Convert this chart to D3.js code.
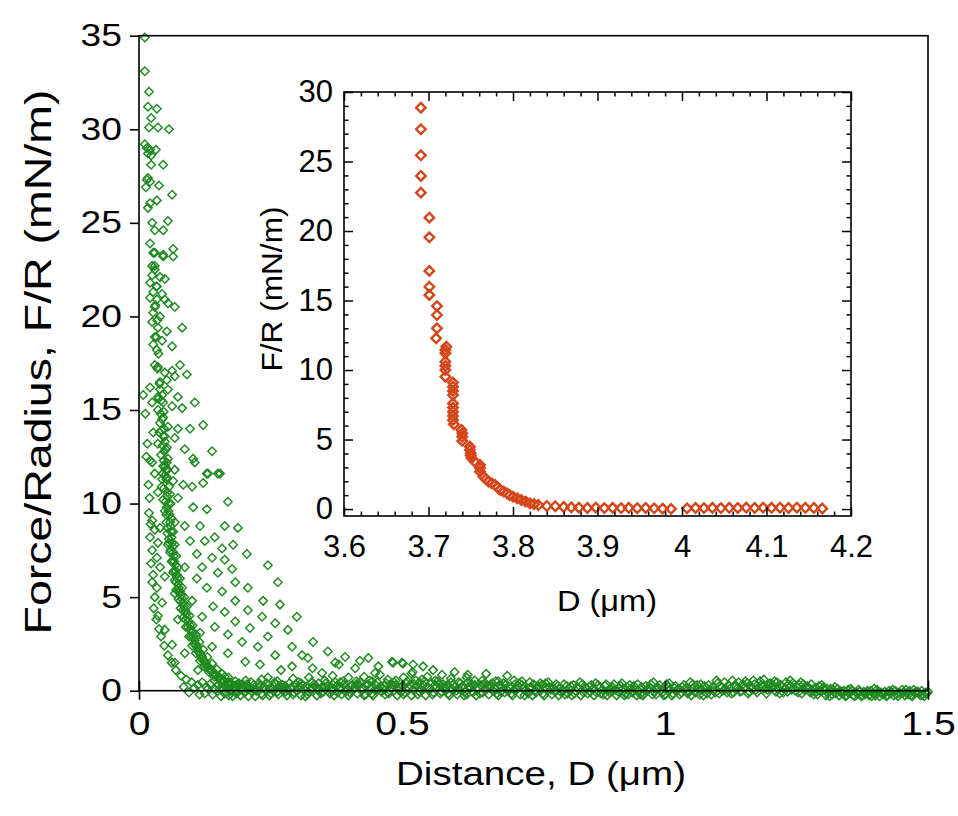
<!DOCTYPE html>
<html><head><meta charset="utf-8">
<script src="https://cdn.jsdelivr.net/npm/d3@7"></script>
<style>
body{margin:0;background:#fff}
svg{display:block}
text{font-family:"Liberation Sans",Arial,Helvetica,sans-serif;fill:#000}
</style>
</head><body>
<svg id="chart" width="958" height="816"></svg>
<script>
// ---------------- tick values / labels ----------------
const mainXTicks = [0, 0.5, 1, 1.5];
const mainXLabels = ["0", "0.5", "1", "1.5"];
const mainYTicks = [0, 5, 10, 15, 20, 25, 30, 35];
const mainYLabels = ["0", "5", "10", "15", "20", "25", "30", "35"];
const insetXTicks = [3.6, 3.7, 3.8, 3.9, 4.0, 4.1, 4.2];
const insetXLabels = ["3.6", "3.7", "3.8", "3.9", "4", "4.1", "4.2"];
const insetYTicks = [0, 5, 10, 15, 20, 25, 30];
const insetYLabels = ["0", "5", "10", "15", "20", "25", "30"];
const mainXTitle = "Distance, D (\u03bcm)";
const mainYTitle = "Force/Radius, F/R (mN/m)";
const insetXTitle = "D (\u03bcm)";
const insetYTitle = "F/R (mN/m)";

// ---------------- green data: distance (um), F/R (mN/m) ----------------
const greenColumn = [
[0.011,34.9],[0.011,33.1],[0.019,32.0],[0.017,31.2],[0.034,31.1],[0.023,30.6],[0.019,30.1],[0.036,30.1],[0.057,30.0],
[0.011,29.2],[0.015,29.0],[0.021,28.9],[0.032,28.9],[0.023,28.6],[0.017,28.7],[0.046,28.1],[0.023,28.1],[0.017,27.4],
[0.015,27.3],[0.021,27.2],[0.013,26.9],[0.038,27.0],[0.063,26.5],[0.034,26.2],[0.021,26.05],[0.017,25.8],[0.055,25.1],
[0.025,25.0],[0.046,24.6],[0.030,24.6],[0.021,23.9],[0.065,23.6],[0.030,23.4],[0.046,23.2],[0.065,23.2],[0.025,22.7],
[0.027,23.4],[0.046,23.3],[0.030,22.7],[0.025,22.2],[0.040,22.1],[0.049,22.0],[0.021,21.8],[0.034,21.6],[0.027,21.3],
[0.044,21.2],[0.021,21.0],[0.034,20.9],[0.049,20.9],[0.030,20.5],[0.068,20.5],[0.055,20.7],[0.027,20.2],[0.040,20.0],
[0.025,19.7],[0.082,19.4],[0.036,19.4],[0.053,19.2],[0.030,18.9],[0.044,18.7],[0.027,18.5],[0.063,18.4],[0.034,18.2],
[0.030,17.4],[0.036,17.3],[0.078,17.4],[0.063,17.1],[0.049,17.0],[0.091,16.9],[0.068,16.8],[0.053,16.6],[0.021,16.2],
[0.040,16.1],[0.055,16.1],[0.008,15.8],[0.036,15.7],[0.074,15.7],[0.025,15.4],[0.046,15.4],[0.106,15.4],[0.063,15.2],
[0.082,15.1],[0.046,14.6],[0.040,14.3],[0.055,14.1],[0.074,14.0],[0.097,14.0],[0.122,14.2],[0.027,13.8],[0.049,13.6],
[0.068,13.5],[0.036,13.2],[0.053,13.0],[0.087,12.9],[0.139,12.8],[0.021,12.3],[0.055,12.4],[0.103,12.4],[0.046,12.0],
[0.068,11.8],[0.030,11.6],[0.129,11.6],[0.154,11.6],[0.053,11.4]
];
const greenSteepA = [
[0.040,16.5],[0.042,15.5],[0.044,14.5],[0.046,13.6],[0.048,12.8],[0.050,12.0],[0.052,11.3],[0.054,10.6],[0.056,10.0],
[0.058,9.4],[0.060,8.8],[0.062,8.2],[0.064,7.7],[0.066,7.2],[0.069,6.7],[0.072,6.2],[0.075,5.7],[0.078,5.3],[0.082,4.9],
[0.086,4.5],[0.090,4.1],[0.094,3.7],[0.098,3.3],[0.103,2.9],[0.108,2.5],[0.114,2.1],[0.120,1.8],[0.127,1.5],[0.134,1.2],
[0.142,0.95],[0.151,0.75],[0.161,0.55],[0.172,0.4],[0.185,0.3]
];
const greenSteepB = [
[0.036,15.0],[0.039,13.8],[0.042,12.6],[0.045,11.6],[0.047,10.8],[0.050,10.1],[0.052,9.4],[0.055,8.7],[0.057,8.1],
[0.060,7.5],[0.063,6.9],[0.066,6.4],[0.070,5.8],[0.074,5.3],[0.078,4.8],[0.083,4.3],[0.088,3.8],[0.093,3.4],[0.099,2.9],
[0.105,2.5],[0.112,2.1],[0.119,1.7],[0.127,1.35],[0.136,1.05],[0.146,0.8],[0.157,0.6],[0.169,0.45]
];
const greenSteepC = [
[0.048,14.0],[0.051,12.9],[0.054,11.8],[0.057,10.9],[0.060,10.0],[0.062,9.2],[0.065,8.5],[0.068,7.8],[0.071,7.2],
[0.074,6.6],[0.078,6.0],[0.082,5.5],[0.086,5.0],[0.091,4.5],[0.096,4.0],[0.102,3.5],[0.108,3.0],[0.115,2.6],[0.122,2.2],
[0.130,1.8],[0.139,1.45],[0.148,1.15],[0.158,0.9],[0.170,0.7],[0.183,0.5],[0.197,0.35]
];
const greenSteepD = [
[0.030,22.5],[0.033,21.6],[0.031,20.6],[0.035,19.8],[0.033,18.9],[0.037,18.0],[0.035,17.2],[0.039,16.4],[0.037,15.6],
[0.041,14.8],[0.043,13.9],[0.045,13.1],[0.047,12.3],[0.049,11.5],[0.043,10.9],[0.046,10.2],[0.049,9.6],[0.052,9.0],
[0.054,8.4],[0.057,7.9],[0.059,7.4],[0.062,6.9],[0.065,6.3],[0.068,5.9],[0.071,5.4],[0.075,4.9],[0.079,4.4],[0.084,3.9],
[0.089,3.4],[0.095,2.9],[0.101,2.4],[0.108,2.0],[0.116,1.6],[0.124,1.3],[0.133,1.0],[0.143,0.75],[0.155,0.55],
[0.168,0.4],[0.182,0.25],[0.196,0.2]
];
const greenSteepE = [
[0.044,15.8],[0.047,14.9],[0.049,13.3],[0.051,11.8],[0.053,10.4],[0.056,9.6],[0.059,9.0],[0.061,8.5],[0.063,7.9],
[0.065,7.4],[0.067,6.9],[0.070,6.4],[0.073,6.0],[0.076,5.5],[0.080,5.1],[0.084,4.7],[0.088,4.3],[0.092,3.9],[0.097,3.5],
[0.101,3.1],[0.106,2.7],[0.111,2.3],[0.117,1.95],[0.124,1.6],[0.131,1.3],[0.138,1.1],[0.145,0.9],[0.153,0.7],
[0.162,0.5],[0.176,0.35],[0.190,0.25],[0.205,0.15]
];
const greenLeft = [
[0.012,14.8],[0.016,13.2],[0.014,12.5],[0.018,11.0],[0.020,10.3],[0.019,9.5],[0.022,8.9],[0.021,8.2],[0.025,7.5],
[0.023,6.8],[0.027,6.2],[0.025,5.8],[0.030,5.0],[0.028,4.4],[0.033,3.8],[0.038,3.3],[0.042,2.9],[0.048,2.4],[0.055,1.9],
[0.062,1.5],[0.070,1.1],[0.080,0.8],[0.090,0.6],[0.100,0.45],[0.112,0.3],[0.085,0.2],[0.095,-0.1],[0.105,0.15],[0.115,-0.2]
];
const greenCloud = [
[0.025,12.2],[0.053,12.2],[0.106,12.2],[0.131,11.6],[0.150,11.6],[0.122,11.1],[0.044,11.3],[0.065,11.2],[0.084,11.0],
[0.101,10.9],[0.036,10.6],[0.059,10.5],[0.074,10.3],[0.169,10.1],[0.103,9.8],[0.053,9.8],[0.129,9.7],[0.025,9.1],
[0.030,8.6],[0.040,8.7],[0.068,9.0],[0.087,8.8],[0.116,8.8],[0.163,8.8],[0.188,8.7],[0.144,8.2],[0.036,7.9],[0.055,7.8],
[0.097,8.0],[0.125,8.0],[0.158,7.6],[0.179,7.8],[0.205,7.3],[0.034,7.1],[0.110,7.3],[0.139,7.1],[0.163,7.0],[0.245,6.7],
[0.040,6.6],[0.087,6.6],[0.120,6.6],[0.177,6.5],[0.150,6.3],[0.049,6.1],[0.110,6.0],[0.264,5.8],[0.183,5.8],[0.207,5.5],
[0.034,5.5],[0.129,5.5],[0.158,5.3],[0.068,5.2],[0.236,4.8],[0.101,4.8],[0.183,4.8],[0.044,4.7],[0.268,4.6],[0.141,4.5],
[0.207,4.3],[0.163,4.2],[0.300,3.95],[0.036,4.0],[0.120,3.95],[0.234,3.95],[0.074,3.8],[0.183,3.7],[0.259,3.6],
[0.144,3.4],[0.211,3.35],[0.049,3.25],[0.283,3.25],[0.116,3.1],[0.169,3.0],[0.245,2.9],[0.331,2.6],[0.196,2.6],
[0.063,2.45],[0.139,2.35],[0.226,2.35],[0.291,2.35],[0.359,2.1],[0.087,2.0],[0.169,2.0],[0.259,1.9],[0.392,1.8],
[0.321,1.75],[0.436,1.75],[0.068,1.5],[0.202,1.55],[0.481,1.55],[0.373,1.5],[0.500,1.5],[0.112,1.1],[0.291,1.3],
[0.411,1.2],[0.348,0.95],[0.449,0.95],[0.163,0.75],[0.245,0.7],[0.483,1.5],[0.502,1.45],[0.521,1.4],[0.540,1.3],
[0.559,1.1],[0.576,0.85],[0.625,0.85],[0.600,1.0],[0.660,0.9],[0.700,0.8],
[0.310,1.9],[0.380,1.4],[0.420,1.6],[0.455,1.3],[0.230,1.4],[0.270,1.1],[0.330,1.2],[0.520,1.0]
];
const greenBandA = [
[0.120,0.45],[0.131,0.10],[0.140,-0.20],[0.151,0.30],[0.160,0.05],[0.171,-0.25],[0.180,0.20],[0.190,0.40],[0.201,-0.10],
[0.210,0.15],[0.221,-0.30],[0.230,0.25],[0.240,0.05],[0.251,-0.15],[0.260,0.35],[0.270,0.10],[0.281,-0.25],[0.290,0.20],
[0.300,0.00],[0.311,0.30],[0.320,-0.20],[0.330,0.15],[0.341,0.40],[0.350,-0.05],[0.360,0.25],[0.371,-0.25],[0.380,0.10],
[0.390,0.35],[0.401,-0.10],[0.410,0.20],[0.420,0.45],[0.431,-0.20],[0.440,0.15],[0.450,0.30],[0.461,-0.05],[0.470,0.40],
[0.480,0.10],[0.491,-0.25],[0.500,0.25],[0.510,0.50],[0.521,0.05],[0.530,-0.20],[0.540,0.30],[0.551,0.15],[0.560,-0.10],
[0.570,0.35],[0.581,0.05],[0.590,-0.25],[0.600,0.20],[0.611,0.40],[0.620,-0.05],[0.630,0.15],[0.641,-0.25],[0.650,0.30],
[0.660,0.05],[0.671,0.40],[0.680,-0.15],[0.690,0.20],[0.701,0.00],[0.710,-0.25],[0.720,0.25],[0.731,0.10],[0.740,-0.15],
[0.750,0.35],[0.761,0.05],[0.770,-0.25],[0.780,0.20],[0.791,-0.05],[0.800,0.15],[0.810,-0.20],[0.821,0.25],[0.830,0.00],
[0.840,-0.25],[0.851,0.10],[0.860,0.30],[0.870,-0.10],[0.881,0.05],[0.890,-0.25],[0.900,0.20],[0.911,-0.05],[0.920,0.10],
[0.930,-0.20],[0.941,0.25],[0.950,0.00],[0.960,-0.15],[0.971,0.15],[0.980,-0.05],[0.990,0.30],[1.001,-0.20],[1.010,0.05],
[1.020,0.25],[1.031,-0.10],[1.040,0.15],[1.050,-0.25],[1.061,0.30],[1.070,0.05],[1.080,-0.15],[1.091,0.20],[1.100,0.40],
[1.110,0.00],[1.121,0.30],[1.130,-0.10],[1.140,0.45],[1.151,0.15],[1.160,-0.05],[1.170,0.35],[1.181,0.50],[1.190,0.10],
[1.200,0.40],[1.211,-0.05],[1.220,0.30],[1.230,0.45],[1.241,0.05],[1.250,0.20],[1.260,-0.15],[1.271,0.25],[1.280,0.00],
[1.290,-0.20],[1.301,0.15],[1.310,-0.10],[1.320,0.05],[1.331,-0.25],[1.340,0.00],[1.350,-0.15],[1.361,-0.30],[1.370,-0.05],
[1.380,-0.20],[1.391,0.00],[1.400,-0.25],[1.410,-0.10],[1.421,-0.30],[1.430,-0.05],[1.440,-0.20],[1.451,0.05],[1.460,-0.15],
[1.470,-0.30],[1.481,-0.05],[1.490,-0.20],[1.500,-0.05]
];
const greenBandB = [
[0.125,-0.15],[0.135,0.35],[0.145,0.05],[0.156,-0.30],[0.165,0.25],[0.175,0.00],[0.185,-0.15],[0.196,0.15],[0.205,0.35],
[0.215,-0.05],[0.226,0.20],[0.235,-0.25],[0.245,0.30],[0.256,0.00],[0.265,-0.20],[0.275,0.15],[0.286,0.40],[0.295,-0.10],
[0.305,0.20],[0.316,-0.30],[0.325,0.05],[0.335,0.25],[0.346,-0.15],[0.355,0.40],[0.365,0.05],[0.376,0.25],[0.385,-0.20],
[0.395,0.10],[0.406,0.30],[0.415,-0.15],[0.425,0.15],[0.436,0.35],[0.445,-0.25],[0.455,0.05],[0.466,0.25],[0.475,-0.15],
[0.485,0.45],[0.496,0.15],[0.505,-0.10],[0.515,0.30],[0.526,0.55],[0.535,0.10],[0.545,-0.25],[0.556,0.40],[0.565,0.20],
[0.575,-0.05],[0.586,0.30],[0.595,0.10],[0.605,-0.20],[0.616,0.25],[0.625,0.45],[0.635,-0.10],[0.646,0.10],[0.655,0.35],
[0.665,-0.20],[0.676,0.15],[0.685,0.30],[0.695,-0.10],[0.706,0.15],[0.715,0.35],[0.725,-0.20],[0.736,0.05],[0.745,0.20],
[0.755,-0.10],[0.766,0.30],[0.775,0.10],[0.785,-0.20],[0.796,0.25],[0.805,0.05],[0.815,-0.15],[0.826,0.30],[0.835,0.10],
[0.845,-0.10],[0.856,0.20],[0.865,-0.25],[0.875,0.15],[0.886,0.25],[0.895,-0.10],[0.905,0.05],[0.916,0.25],[0.925,-0.15],
[0.935,0.10],[0.946,-0.25],[0.955,0.20],[0.965,0.05],[0.976,-0.20],[0.985,0.10],[0.995,-0.10],[1.006,0.20],[1.015,-0.15],
[1.025,0.10],[1.036,0.30],[1.045,-0.05],[1.055,0.15],[1.066,-0.20],[1.075,0.25],[1.085,0.05],[1.096,-0.10],[1.105,0.25],
[1.115,0.10],[1.126,-0.15],[1.135,0.25],[1.145,0.00],[1.156,0.40],[1.165,0.10],[1.175,-0.10],[1.186,0.25],[1.195,0.05],
[1.205,0.30],[1.216,0.10],[1.225,-0.10],[1.235,0.35],[1.246,0.15],[1.255,0.30],[1.265,0.05],[1.276,-0.10],[1.285,0.15],
[1.295,0.00],[1.306,-0.25],[1.315,0.10],[1.325,-0.15],[1.336,-0.05],[1.345,-0.25],[1.355,0.00],[1.366,-0.15],[1.375,-0.25],
[1.385,0.00],[1.396,-0.15],[1.405,-0.05],[1.415,-0.20],[1.426,0.00],[1.435,-0.25],[1.445,-0.10],[1.456,-0.25],[1.465,0.00],
[1.475,-0.10],[1.486,-0.25],[1.495,-0.10]
];
const greenBandC = [
[0.128,0.20],[0.143,0.55],[0.158,0.15],[0.173,0.45],[0.188,-0.05],[0.203,0.55],[0.218,0.30],[0.233,0.60],[0.248,0.10],
[0.263,0.50],[0.278,0.25],[0.293,0.65],[0.308,0.40],[0.323,0.70],[0.338,0.15],[0.353,0.55],[0.368,0.80],[0.383,0.45],
[0.398,0.70],[0.413,0.35],[0.428,0.75],[0.443,0.50],[0.458,0.85],[0.473,0.60],[0.488,0.30],[0.503,0.70],[0.518,0.90],
[0.533,0.45],[0.548,0.75],[0.563,0.55],[0.578,0.35],[0.593,0.65],[0.608,0.45],[0.623,0.70],[0.638,0.30],[0.653,0.55],
[0.668,0.25],[0.683,0.50],[0.698,0.35],[0.713,0.55],[0.728,0.30],[0.743,0.45],[0.758,0.20],[0.773,0.40]
];
const greenBandD = [
[0.153,0.10],[0.163,-0.15],[0.173,0.30],[0.183,0.05],[0.193,-0.25],[0.203,0.20],[0.213,0.45],[0.223,0.00],[0.233,-0.15],
[0.243,0.40],[0.253,0.15],[0.263,-0.05],[0.273,0.30],[0.283,0.05],[0.293,-0.20],[0.303,0.45],[0.313,0.10],[0.323,-0.10],
[0.333,0.35],[0.343,0.05],[0.353,0.20],[0.363,-0.15],[0.373,0.45],[0.383,0.15],[0.393,-0.05],[0.403,0.25],[0.413,0.50],
[0.423,0.00],[0.433,0.30],[0.443,-0.15],[0.453,0.45],[0.463,0.15],[0.473,-0.10],[0.483,0.30],[0.493,0.05],[0.503,-0.20],
[0.513,0.15],[0.523,0.35],[0.533,-0.05],[0.543,0.50],[0.553,0.05],[0.563,0.30],[0.573,-0.15],[0.583,0.15],[0.593,0.45],
[0.603,0.00],[0.613,0.20],[0.623,-0.20],[0.633,0.35],[0.643,0.05],[0.653,-0.10],[0.663,0.25],[0.673,0.00],[0.683,-0.25],
[0.693,0.40],[0.703,0.20],[0.713,0.05],[0.723,0.40],[0.733,-0.25],[0.743,0.15],[0.753,0.00],[0.763,0.40],[0.773,0.20],
[0.783,0.05],[0.793,0.35],[0.803,-0.10],[0.813,0.25],[0.823,-0.25],[0.833,0.20],[0.843,0.35],[0.853,-0.15],[0.863,0.10],
[0.873,0.30],[0.883,-0.20],[0.893,0.05],[0.903,0.35],[0.913,0.15],[0.923,-0.25],[0.933,0.30],[0.943,0.05],[0.953,-0.20],
[0.963,0.25],[0.973,0.35],[0.983,-0.20],[0.993,0.05],[1.003,0.35],[1.013,-0.25],[1.023,0.00],[1.033,0.20],[1.043,-0.15],
[1.053,0.35],[1.063,0.10],[1.073,-0.25],[1.083,0.30],[1.093,0.00],[1.103,-0.15],[1.113,0.45],[1.123,0.10],[1.133,0.30],
[1.143,-0.05],[1.153,0.50],[1.163,0.25],[1.173,0.05],[1.183,0.30],[1.193,-0.15],[1.203,0.15],[1.213,0.45],[1.223,0.20],
[1.233,-0.05],[1.243,0.40],[1.253,-0.10],[1.263,0.35],[1.273,0.10],[1.283,-0.20],[1.293,0.25],[1.303,0.05],[1.313,-0.30],
[1.323,0.20],[1.333,-0.05],[1.343,-0.30],[1.353,0.10],[1.363,-0.10],[1.373,-0.30],[1.383,-0.10],[1.393,-0.30],[1.403,0.05],
[1.413,-0.15],[1.423,-0.25],[1.433,0.05],[1.443,-0.30],[1.453,-0.10],[1.463,-0.20],[1.473,0.05],[1.483,-0.15],[1.493,-0.30]
];
const greenBandE = [
[0.158,0.40],[0.168,0.15],[0.178,-0.30],[0.188,0.25],[0.198,0.05],[0.208,-0.30],[0.218,0.05],[0.228,0.40],[0.238,0.20],
[0.248,-0.25],[0.258,0.45],[0.268,0.25],[0.278,-0.05],[0.288,0.10],[0.298,0.35],[0.308,-0.25],[0.318,0.20],[0.328,0.45],
[0.338,-0.25],[0.348,0.20],[0.358,0.00],[0.368,0.35],[0.378,-0.10],[0.388,0.50],[0.398,-0.25],[0.408,0.05],[0.418,0.30],
[0.428,-0.25],[0.438,0.55],[0.448,0.05],[0.458,0.20],[0.468,-0.20],[0.478,0.35],[0.488,0.55],[0.498,-0.05],[0.508,0.40],
[0.518,-0.25],[0.528,0.25],[0.538,0.60],[0.548,0.20],[0.558,-0.20],[0.568,0.50],[0.578,0.20],[0.588,-0.15],[0.598,0.35],
[0.608,0.10],[0.618,-0.25],[0.628,0.25],[0.638,0.55],[0.648,-0.15],[0.658,0.40],[0.668,0.15],[0.678,0.50],[0.688,-0.05],
[0.698,0.10],[0.708,-0.15],[0.718,0.10],[0.728,0.50],[0.738,-0.05],[0.748,-0.25],[0.758,0.25],[0.768,-0.15],[0.778,0.45],
[0.788,0.15],[0.798,-0.25],[0.808,0.35],[0.818,0.10],[0.828,-0.15],[0.838,0.45],[0.848,0.15],[0.858,-0.05],[0.868,0.40],
[0.878,-0.15],[0.888,0.35],[0.898,0.10],[0.908,-0.25],[0.918,0.40],[0.928,0.20],[0.938,-0.10],[0.948,0.35],[0.958,-0.25],
[0.968,0.05],[0.978,0.45],[0.988,0.15],[0.998,-0.25],[1.008,0.40],[1.018,0.15],[1.028,-0.20],[1.038,0.05],[1.048,0.45],
[1.058,-0.10],[1.068,0.35],[1.078,0.15],[1.088,-0.20],[1.098,0.55],[1.108,0.20],[1.118,-0.10],[1.128,0.55],[1.138,0.15],
[1.148,0.35],[1.158,-0.15],[1.168,0.55],[1.178,0.20],[1.188,0.60],[1.198,0.25],[1.208,0.50],[1.218,-0.15],[1.228,0.15],
[1.238,0.55],[1.248,0.00],[1.258,0.45],[1.268,0.15],[1.278,0.35],[1.288,-0.05],[1.298,0.30],[1.308,0.10],[1.318,-0.20],
[1.328,0.10],[1.338,-0.15],[1.348,0.05],[1.358,-0.25],[1.368,0.05],[1.378,-0.05],[1.388,-0.25],[1.398,0.10],[1.408,-0.30],
[1.418,-0.05],[1.428,-0.15],[1.438,0.00],[1.448,-0.15],[1.458,0.05],[1.468,-0.25],[1.478,-0.05],[1.488,0.00],[1.498,-0.15]
];

// ---------------- orange (inset) data: D (um), F/R (mN/m) ----------------
const orangeData = [
[3.691,28.87],[3.691,27.32],[3.691,25.45],[3.691,23.96],[3.691,22.76],[3.701,20.96],[3.701,19.55],[3.701,17.13],
[3.701,15.99],[3.701,15.4],[3.710,14.6],[3.710,13.96],[3.710,13.0],[3.709,12.28],[3.721,11.68],[3.720,11.45],
[3.720,11.2],[3.720,10.6],[3.720,10.3],[3.720,10.0],[3.720,9.52],[3.729,9.1],[3.729,8.8],[3.729,8.5],[3.729,8.2],
[3.729,7.6],[3.729,7.3],[3.729,7.0],[3.729,6.7],[3.729,6.4],[3.730,6.1],[3.739,5.69],[3.740,5.45],[3.740,5.2],
[3.740,4.9],[3.749,4.49],[3.749,4.25],[3.750,4.0],[3.750,3.85],[3.751,3.65],[3.755,3.4],[3.761,3.17],[3.761,2.95],
[3.761,2.69],[3.765,2.33],[3.768,2.15],[3.771,1.97],[3.775,1.85],[3.779,1.73],[3.782,1.55],[3.785,1.37],[3.789,1.25],
[3.793,1.13],[3.796,1.0],[3.800,0.89],[3.805,0.77],[3.810,0.65],[3.815,0.53],[3.820,0.41],[3.825,0.35],[3.830,0.29],
[3.840,0.22],[3.850,0.20],[3.860,0.15],[3.869,0.12],[3.878,0.10],[3.888,0.08],[3.898,0.10],[3.908,0.07],[3.918,0.09],
[3.928,0.07],[3.937,0.09],[3.947,0.06],[3.957,0.08],[3.967,0.05],[3.977,0.03],[3.987,0.01],[4.006,0.05],[4.016,0.08],
[4.026,0.07],[4.036,0.09],[4.046,0.07],[4.056,0.09],[4.066,0.08],[4.076,0.10],[4.086,0.08],[4.096,0.10],[4.106,0.09],
[4.116,0.10],[4.126,0.08],[4.136,0.10],[4.146,0.09],[4.156,0.08],[4.166,0.04]
];

// ---------------- drawing ----------------
const svg = d3.select("#chart");
svg.append("rect").attr("width", 958).attr("height", 816).attr("fill", "#fff");

const FONT = '"Liberation Sans", Arial, Helvetica, sans-serif';
const GREEN = "#1f8a1f";
const ORANGE = "#d4461a";

const squareDiamond = {
  draw(ctx, size) {
    const r = Math.sqrt(size) / 2;
    ctx.moveTo(0, -r); ctx.lineTo(r, 0); ctx.lineTo(0, r); ctx.lineTo(-r, 0); ctx.closePath();
  }
};

function stretchTexts(g, sx) {
  g.selectAll("text").each(function () {
    const t = d3.select(this);
    const x = +t.attr("x") || 0, y = +t.attr("y") || 0;
    t.attr("x", null).attr("y", null).attr("transform", `translate(${x},${y}) scale(${sx},1)`);
  });
}

// ----- main chart -----
const M = {left: 139, right: 928, top: 35.7, bottom: 690.7};
const xMain = d3.scaleLinear().domain([0, 1.5]).range([M.left, M.right]);
const yMain = d3.scaleLinear().domain([0, 35]).range([M.bottom, M.top]);

const greenAll = [].concat(greenBandC, greenBandA, greenBandB, greenBandD, greenBandE, greenCloud, greenLeft,
  greenSteepE, greenSteepD, greenSteepC, greenSteepB, greenSteepA, greenColumn);
const gSym = d3.symbol().type(squareDiamond).size(72);
svg.append("g").selectAll("path").data(greenAll).join("path")
  .attr("d", gSym)
  .attr("transform", d => `translate(${xMain(d[0])},${yMain(d[1])})`)
  .attr("fill", "none").attr("stroke", GREEN).attr("stroke-width", 1.45);

svg.append("rect").attr("x", M.left).attr("y", M.top)
  .attr("width", M.right - M.left).attr("height", M.bottom - M.top)
  .attr("fill", "none").attr("stroke", "#000").attr("stroke-width", 1.6);

const yAx = svg.append("g").attr("transform", `translate(${M.left},0)`)
  .call(d3.axisLeft(yMain).tickValues(mainYTicks).tickSize(9).tickPadding(8)
    .tickFormat((d, i) => mainYLabels[i]));
const xAx = svg.append("g").attr("transform", `translate(0,${M.bottom})`)
  .call(d3.axisBottom(xMain).tickValues(mainXTicks).tickSizeInner(-10).tickSizeOuter(0).tickPadding(20)
    .tickFormat((d, i) => mainXLabels[i]));
const xExt = svg.append("g").attr("transform", `translate(0,${M.bottom})`)
  .call(d3.axisBottom(xMain).tickValues([0, 1.5]).tickSize(9).tickFormat(""));

[yAx, xAx, xExt].forEach(g => {
  g.select(".domain").remove();
  g.selectAll("line").attr("stroke", "#000").attr("stroke-width", 1.6);
  g.selectAll("text").attr("font-family", FONT).attr("fill", "#000");
});
yAx.selectAll("text").attr("font-size", 31);
xAx.selectAll("text").attr("font-size", 34);
stretchTexts(yAx, 1.2);
stretchTexts(xAx, 1.15);

svg.append("text").attr("x", 541).attr("y", 785)
  .attr("text-anchor", "middle").attr("font-size", 34)
  .attr("textLength", 290).attr("lengthAdjust", "spacingAndGlyphs").text(mainXTitle);
svg.append("text").attr("transform", `translate(51,362) rotate(-90)`)
  .attr("text-anchor", "middle").attr("font-size", 36)
  .attr("textLength", 545).attr("lengthAdjust", "spacingAndGlyphs").text(mainYTitle);

// ----- inset -----
const I = {left: 344, right: 851, top: 92, bottom: 516};
const xIn = d3.scaleLinear().domain([3.6, 4.2]).range([I.left, I.right]);
const yIn = d3.scaleLinear().domain([-0.5, 30]).range([I.bottom, I.top]);

svg.append("rect").attr("x", I.left).attr("y", I.top)
  .attr("width", I.right - I.left).attr("height", I.bottom - I.top)
  .attr("fill", "#fff");

const oSym = d3.symbol().type(squareDiamond).size(90);
svg.append("g").selectAll("path").data(orangeData).join("path")
  .attr("d", oSym)
  .attr("transform", d => `translate(${xIn(d[0])},${yIn(d[1])})`)
  .attr("fill", "none").attr("stroke", ORANGE).attr("stroke-width", 2.4);

svg.append("rect").attr("x", I.left).attr("y", I.top)
  .attr("width", I.right - I.left).attr("height", I.bottom - I.top)
  .attr("fill", "none").attr("stroke", "#000").attr("stroke-width", 1.6);

const xMinor = d3.range(3.62, 4.2, 0.02).filter(v => Math.abs(v * 10 - Math.round(v * 10)) > 1e-6);
const yMinor = d3.range(1, 30, 1).filter(v => v % 5 !== 0);

function insetAxis(axisFn, scale, transform, values, size, labels, pad) {
  const a = axisFn(scale).tickValues(values).tickSize(-size).tickPadding(pad || 0);
  a.tickFormat(labels ? (d, i) => labels[i] : "");
  const g = svg.append("g").attr("transform", transform).call(a);
  g.select(".domain").remove();
  g.selectAll("line").attr("stroke", "#000").attr("stroke-width", 1.5);
  g.selectAll("text").attr("font-size", 31).attr("font-family", FONT).attr("fill", "#000");
  return g;
}
insetAxis(d3.axisBottom, xIn, `translate(0,${I.bottom})`, insetXTicks, 9, insetXLabels, 19);
insetAxis(d3.axisBottom, xIn, `translate(0,${I.bottom})`, xMinor, 4.5);
insetAxis(d3.axisTop, xIn, `translate(0,${I.top})`, insetXTicks, 9);
insetAxis(d3.axisTop, xIn, `translate(0,${I.top})`, xMinor, 4.5);
insetAxis(d3.axisLeft, yIn, `translate(${I.left},0)`, insetYTicks, 9, insetYLabels, 11);
insetAxis(d3.axisLeft, yIn, `translate(${I.left},0)`, yMinor, 4.5);
insetAxis(d3.axisRight, yIn, `translate(${I.right},0)`, insetYTicks, 9);
insetAxis(d3.axisRight, yIn, `translate(${I.right},0)`, yMinor, 4.5);

svg.append("text").attr("x", 607).attr("y", 611)
  .attr("text-anchor", "middle").attr("font-size", 30)
  .attr("textLength", 100).attr("lengthAdjust", "spacingAndGlyphs").text(insetXTitle);
svg.append("text").attr("transform", `translate(282,289) rotate(-90)`)
  .attr("text-anchor", "middle").attr("font-size", 30)
  .attr("textLength", 165).attr("lengthAdjust", "spacingAndGlyphs").text(insetYTitle);
</script>
</body></html>
